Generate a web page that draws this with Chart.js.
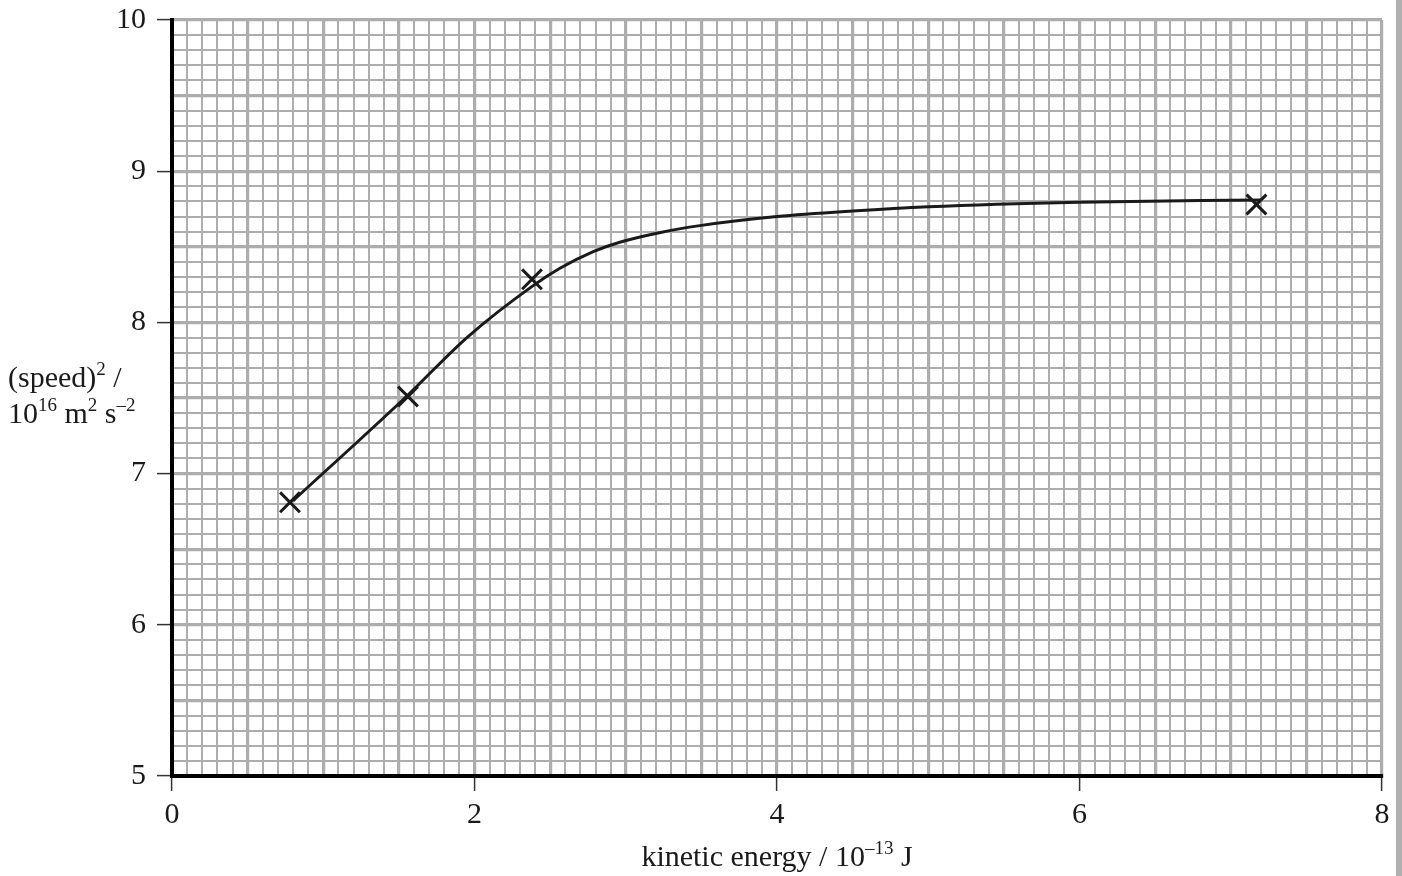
<!DOCTYPE html>
<html lang="en">
<head>
  <meta charset="UTF-8">
  <title>(speed)² against kinetic energy</title>
  <script src="https://cdn.jsdelivr.net/npm/chart.js"></script>
  <style>
    body { margin: 0; background: #fff; }
  </style>
</head>
<body>
  <div style="width: 1402px; height: 876px; position: relative;">
    <canvas id="speedChart"></canvas>
  </div>

  <script>
    // measured points (crosses)
    const energyPoints = [0.78, 1.56, 2.38, 7.17];
    const speedSqPoints = [6.81, 7.51, 8.285, 8.78];

    // hand-drawn best-fit curve
    const curveEnergy = [0.80, 1.56, 1.95, 2.39, 2.565, 2.785, 2.96, 3.23, 3.49, 4.00, 4.50, 5.00, 6.00, 7.20];
    const curveSpeedSq = [6.82, 7.52, 7.90, 8.245, 8.358, 8.468, 8.53, 8.595, 8.64, 8.70, 8.737, 8.765, 8.795, 8.81];

    const xLabels = [0, 2, 4, 6, 8];
    const yLabels = [5, 6, 7, 8, 9, 10];

    const FONT = 'Liberation Serif, Times New Roman, serif';
    const GRID = '#adadad';
    const INK = '#1a1a1a';

    const isMajor = v => Math.round(v * 10) % 5 === 0;
    const inList = (list, v) => list.some(t => Math.abs(t - v) < 1e-6);

    function gridOpts(labels) {
      return {
        color: GRID,
        lineWidth: ctx => isMajor(ctx.tick.value) ? 3.2 : 2,
        tickLength: 15,
        tickColor: ctx => inList(labels, ctx.tick.value) ? '#333' : 'rgba(0,0,0,0)',
        tickWidth: 1.5
      };
    }

    // draws text with superscript parts: [[text, isSup], ...]
    function richText(ctx, x, y, parts, align) {
      const big = '30px ' + FONT, small = '19px ' + FONT;
      let total = 0;
      parts.forEach(p => {
        ctx.font = p[1] ? small : big;
        total += ctx.measureText(p[0]).width;
      });
      let cx = align === 'center' ? x - total / 2 : x;
      parts.forEach(p => {
        ctx.font = p[1] ? small : big;
        ctx.fillText(p[0], cx, p[1] ? y - 12 : y);
        cx += ctx.measureText(p[0]).width;
      });
    }

    const titlePlugin = {
      id: 'titles',
      afterDraw(chart) {
        const ctx = chart.ctx;
        ctx.save();
        ctx.fillStyle = INK;
        ctx.textBaseline = 'alphabetic';
        ctx.textAlign = 'left';
        richText(ctx, 777, 866, [['kinetic energy / 10', false], ['–13', true], [' J', false]], 'center');
        richText(ctx, 8, 387, [['(speed)', false], ['2', true], [' /', false]], 'left');
        richText(ctx, 8, 423, [['10', false], ['16', true], [' m', false], ['2', true], [' s', false], ['–2', true]], 'left');
        // grey page edge on the right
        ctx.fillStyle = '#b0b0b0';
        ctx.fillRect(1396, 0, 6, 876);
        ctx.restore();
      }
    };

    const curveData = curveEnergy.map((x, i) => ({ x: x, y: curveSpeedSq[i] }));
    const pointData = energyPoints.map((x, i) => ({ x: x, y: speedSqPoints[i] }));

    new Chart(document.getElementById('speedChart'), {
      type: 'scatter',
      data: {
        datasets: [{
          label: 'curve',
          data: curveData,
          showLine: true,
          borderColor: INK,
          borderWidth: 3,
          pointRadius: 0,
          cubicInterpolationMode: 'monotone'
        }, {
          label: 'measurements',
          data: pointData,
          pointStyle: 'crossRot',
          pointRadius: 14,
          pointBorderColor: INK,
          pointBorderWidth: 3,
          showLine: false
        }]
      },
      options: {
        responsive: true,
        maintainAspectRatio: false,
        animation: false,
        layout: { padding: { top: 20, right: 20, left: 0, bottom: 0 } },
        plugins: {
          legend: { display: false },
          tooltip: { enabled: false }
        },
        scales: {
          x: {
            type: 'linear',
            min: 0,
            max: 8,
            grid: gridOpts(xLabels),
            border: { color: '#000', width: 4 },
            ticks: {
              stepSize: 0.1,
              autoSkip: false,
              maxRotation: 0,
              padding: 6,
              color: INK,
              font: { family: FONT, size: 30 },
              callback: v => inList(xLabels, v) ? String(Math.round(v)) : ''
            },
            afterFit: scale => {
              scale.height = 100;
              scale.paddingLeft = 0;
              scale.paddingRight = 0;
            }
          },
          y: {
            type: 'linear',
            min: 5,
            max: 10,
            grid: gridOpts(yLabels),
            border: { color: '#000', width: 4 },
            ticks: {
              stepSize: 0.1,
              autoSkip: false,
              padding: 11,
              color: INK,
              font: { family: FONT, size: 30 },
              callback: v => inList(yLabels, v) ? String(Math.round(v)) : ''
            },
            afterFit: scale => {
              scale.width = 172;
              scale.paddingTop = 0;
              scale.paddingBottom = 0;
            }
          }
        }
      },
      plugins: [titlePlugin]
    });
  </script>
</body>
</html>
